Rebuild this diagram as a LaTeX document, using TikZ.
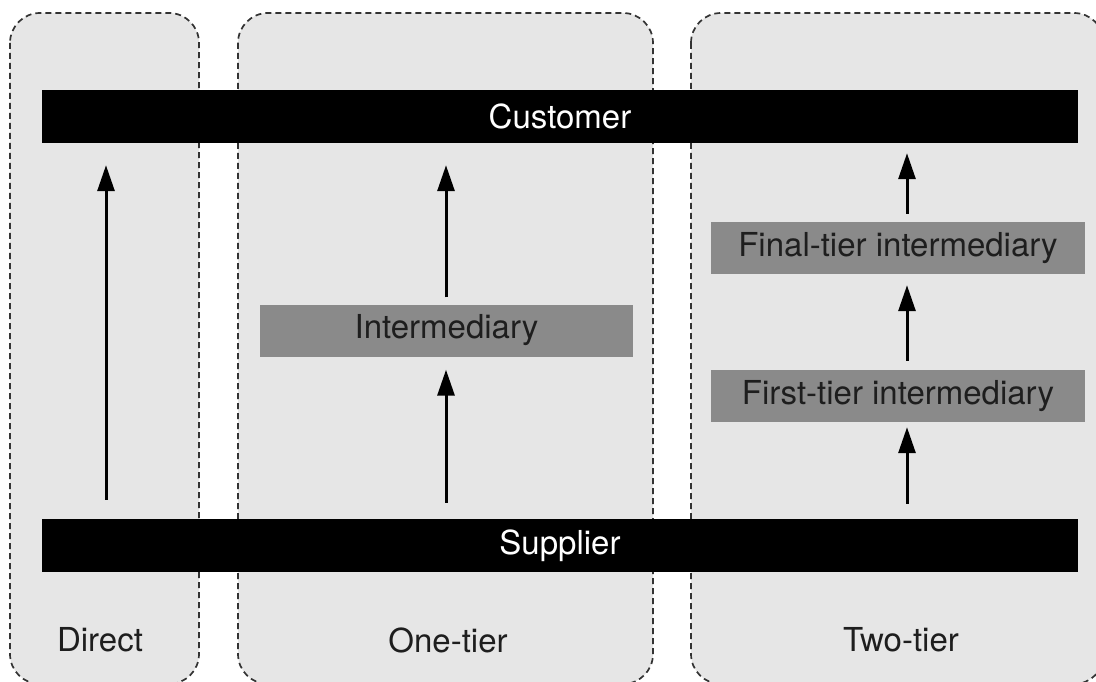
\documentclass[tikz,border=0pt]{standalone}
\usepackage{fontspec}
\setmainfont{TeX Gyre Heros}
\usetikzlibrary{arrows.meta,calc}
\definecolor{panelfill}{HTML}{E6E6E6}
\definecolor{midfill}{HTML}{8A8A8A}
\definecolor{txt}{HTML}{1E1E1E}
\tikzset{
  panel/.style={draw=black!80, fill=panelfill, line width=1.7pt, dash pattern=on 6pt off 4pt, rounded corners=30pt},
  bar/.style={fill=black, text=white, minimum width=1036pt, minimum height=53pt, inner sep=0pt, font=\fontsize{33}{39}\selectfont},
  midbox/.style={fill=midfill, text=txt, minimum height=52pt, inner sep=0pt, font=\fontsize{33}{39}\selectfont},
  lbl/.style={text=txt, font=\fontsize{33}{39}\selectfont},
  flow/.style={line width=3pt, -{Triangle[length=26pt,width=17pt]}},
}
\begin{document}
\begin{tikzpicture}[x=1pt,y=-1pt]
\useasboundingbox (0,0) rectangle (1096,682);
% panels
\draw[panel] (10,13) rectangle (199,684);
\draw[panel] (238,13) rectangle (653,684);
\draw[panel] (691,13) rectangle (1104,684);
% bars
\node[bar] (customer) at (560,116.5) {Customer};
\node[bar] (supplier) at (560,545.5) {Supplier};
% intermediaries
\node[midbox, minimum width=373pt] (inter) at (446.5,330.5) {Intermediary};
\node[midbox, minimum width=374pt] (final) at (898,248) {Final-tier intermediary};
\node[midbox, minimum width=374pt] (first) at (898,396) {First-tier intermediary};
% labels
\node[lbl] (ldirect) at (100,640) {Direct};
\node[lbl] (lone) at (448,640) {One-tier};
\node[lbl] (ltwo) at (901,640) {Two-tier};
% columns
\coordinate (cD) at (106,0);
\coordinate (cO) at (446,0);
\coordinate (cT) at (907,0);
% arrows
\draw[flow, shorten <=19pt, shorten >=22pt] (cD |- supplier.north) -- (cD |- customer.south);
\draw[flow, shorten <=16pt, shorten >=13pt] (cO |- supplier.north) -- (cO |- inter.south);
\draw[flow, shorten <=7pt, shorten >=22pt] (cO |- inter.north) -- (cO |- customer.south);
\draw[flow, shorten <=15pt, shorten >=5pt] (cT |- supplier.north) -- (cT |- first.south);
\draw[flow, shorten <=9pt, shorten >=11pt] (cT |- first.north) -- (cT |- final.south);
\draw[flow, shorten <=8pt, shorten >=10pt] (cT |- final.north) -- (cT |- customer.south);
\end{tikzpicture}
\end{document}
